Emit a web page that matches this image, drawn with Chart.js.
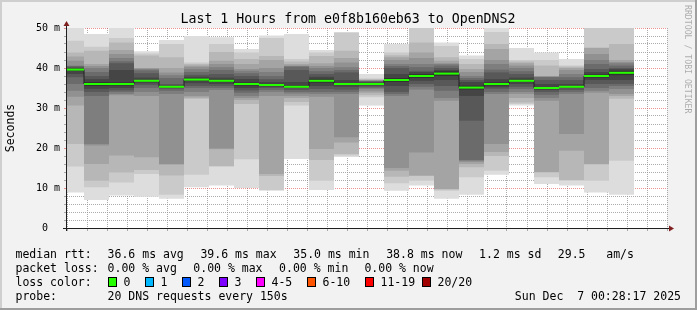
<!DOCTYPE html>
<html><head><meta charset="utf-8">
<script src="https://cdn.jsdelivr.net/npm/chart.js@4"></script>
<style>html,body{margin:0;padding:0;background:#f2f2f2;overflow:hidden}</style>
</head><body>
<canvas id="c" width="697" height="310"></canvas>
<script>
// ---------- data ----------
const graphStart = '23:28:18';
const probeStepMin = 2.5; // 20 DNS requests every 150s
const xTickStepMin = 2;
const sampleTimes = ['23:30:00','23:32:30','23:35:00','23:37:30','23:40:00','23:42:30','23:45:00','23:47:30',
  '23:50:00','23:52:30','23:55:00','23:57:30','00:00:00','00:02:30','00:05:00','00:07:30','00:10:00',
  '00:12:30','00:15:00','00:17:30','00:20:00','00:22:30','00:25:00'];
const medianRtt = [39.6, 36.0, 36.0, 36.8, 35.3, 37.1, 36.8, 36.0, 35.75, 35.3, 36.8, 36.0, 36.0, 37.0, 38.0, 38.6, 35.1, 36.0, 36.8, 35.0, 35.3, 38.0, 38.8];
// 20 sorted ping rtts (ms) per sample
const s00 = [8.9, 15.4, 21.0, 30.6, 32.8, 34.3, 36.0, 37.7, 38.5, 39.3, 39.8, 40.0, 40.3, 40.5, 40.6, 41.8, 42.9, 43.9, 46.8, 51.0];
const s01 = [7.0, 10.2, 11.8, 16.0, 20.6, 21.0, 33.0, 34.0, 34.8, 35.5, 36.5, 37.2, 38.0, 39.0, 40.0, 40.5, 41.0, 44.3, 45.3, 48.5];
const s02 = [8.1, 11.4, 13.9, 18.1, 33.2, 33.5, 34.0, 34.4, 35.0, 35.6, 36.4, 39.5, 41.2, 41.7, 42.5, 43.5, 44.5, 46.4, 47.5, 50.5];
const s03 = [7.8, 13.5, 14.5, 17.7, 33.0, 34.0, 35.0, 35.7, 36.2, 36.6, 37.0, 37.6, 38.7, 39.4, 39.7, 39.9, 40.0, 43.1, 43.6, 44.2];
const s04 = [7.3, 8.3, 13.1, 15.8, 16.0, 33.5, 34.3, 34.8, 35.0, 35.2, 35.4, 35.6, 36.0, 37.5, 38.2, 38.9, 40.0, 42.7, 46.0, 47.0];
const s05 = [10.2, 13.3, 32.3, 32.6, 33.0, 34.0, 35.0, 35.5, 36.2, 36.8, 37.3, 37.8, 38.3, 39.0, 39.7, 40.3, 40.6, 41.0, 41.4, 48.0];
const s06 = [10.6, 15.3, 15.5, 19.7, 19.9, 34.5, 35.0, 35.5, 36.0, 36.5, 37.1, 37.6, 38.5, 39.5, 40.2, 41.0, 41.8, 44.0, 46.0, 47.7];
const s07 = [10.0, 17.2, 31.0, 32.0, 32.5, 33.0, 33.8, 34.4, 35.0, 35.6, 36.4, 37.25, 38.0, 38.7, 39.3, 39.75, 41.0, 42.25, 43.9, 44.75];
const s08 = [9.3, 9.5, 13.0, 13.5, 33.0, 34.0, 34.5, 35.0, 35.3, 35.5, 36.0, 36.5, 37.2, 38.0, 39.0, 40.0, 42.0, 43.0, 47.5, 48.1];
const s09 = [17.25, 30.6, 31.5, 32.5, 33.0, 33.6, 34.0, 34.5, 35.0, 35.1, 35.6, 36.5, 39.5, 40.3, 40.5, 40.6, 41.0, 41.6, 42.25, 48.5];
const s10 = [9.5, 11.8, 17.0, 19.75, 32.8, 33.5, 34.0, 34.75, 35.5, 36.3, 37.3, 37.8, 38.5, 39.2, 40.0, 40.5, 41.2, 43.0, 43.9, 44.5];
const s11 = [17.75, 18.1, 18.5, 21.4, 22.7, 33.5, 34.0, 34.6, 35.3, 35.8, 36.2, 37.0, 38.9, 39.5, 40.2, 41.4, 42.5, 44.3, 48.8, 49.0];
const s12 = [30.6, 32.7, 33.2, 33.8, 34.2, 34.75, 35.0, 35.3, 35.6, 35.8, 36.2, 36.4, 36.6, 36.7, 36.8, 36.9, 37.0, 37.2, 37.4, 38.5];
const s13 = [9.3, 11.2, 12.8, 14.3, 15.0, 33.0, 33.5, 34.0, 35.5, 36.5, 37.5, 38.5, 40.0, 40.5, 41.0, 42.0, 42.7, 43.2, 43.9, 46.0];
const s14 = [10.6, 11.8, 13.0, 13.1, 18.9, 34.6, 35.3, 36.0, 36.8, 37.5, 38.5, 39.0, 39.3, 40.2, 41.0, 42.5, 43.9, 46.4, 50.1, 50.2];
const s15 = [7.3, 9.3, 9.6, 9.75, 31.8, 32.5, 34.3, 35.5, 37.0, 38.0, 39.2, 39.5, 40.0, 40.6, 41.0, 41.2, 41.8, 42.7, 45.5, 46.4];
const s16 = [8.3, 12.7, 15.2, 16.0, 16.5, 16.8, 17.0, 26.8, 33.0, 34.6, 35.6, 36.5, 37.0, 37.5, 38.0, 39.0, 39.75, 41.0, 42.25, 43.1];
const s17 = [13.3, 14.3, 18.0, 19.0, 21.0, 33.5, 34.0, 34.8, 35.2, 35.6, 36.4, 37.2, 38.9, 39.6, 41.0, 42.0, 44.75, 46.0, 49.0, 50.2];
const s18 = [30.6, 31.0, 31.4, 32.5, 33.5, 34.0, 34.75, 35.3, 36.0, 36.5, 37.1, 37.6, 38.5, 39.2, 40.0, 40.6, 41.2, 41.6, 42.0, 45.0];
const s19 = [11.0, 12.7, 13.9, 14.0, 31.8, 32.5, 33.3, 34.0, 34.5, 34.8, 35.2, 36.0, 37.0, 37.7, 37.8, 37.9, 38.0, 40.6, 42.0, 43.9];
const s20 = [10.6, 11.8, 12.0, 19.3, 23.5, 33.5, 34.0, 34.5, 35.0, 35.2, 35.4, 36.0, 37.0, 37.7, 38.5, 39.5, 40.0, 40.3, 40.6, 42.25];
const s21 = [8.9, 11.8, 15.9, 16.0, 33.8, 34.3, 35.0, 36.0, 37.0, 37.6, 38.4, 39.0, 39.75, 41.0, 42.0, 43.5, 45.0, 45.1, 50.1, 50.2];
const s22 = [8.3, 16.8, 32.3, 33.0, 33.5, 34.75, 35.5, 36.0, 37.0, 38.2, 39.3, 39.7, 40.0, 40.6, 41.2, 41.5, 42.0, 46.0, 50.1, 50.2];
const smoke = [s00,s01,s02,s03,s04,s05,s06,s07,s08,s09,s10,s11,s12,s13,s14,s15,s16,s17,s18,s19,s20,s21,s22];

const xTickLabels = ['23:30','23:40','23:50','00:00','00:10','00:20'];
const yTickLabels = ['0  ','10 m','20 m','30 m','40 m','50 m'];
const titleText = 'Last 1 Hours from e0f8b160eb63 to OpenDNS2';
const rttStats = ['36.6 ms avg','39.6 ms max','35.0 ms min','38.8 ms now','1.2 ms sd','29.5   am/s'];
const lossStats = ['0.00 % avg','0.00 % max','0.00 % min','0.00 % now'];
const lossLabels = ['0','1','2','3','4-5','6-10','11-19','20/20'];
const lossColors = ['#26ff00','#00b8ff','#0059ff','#7e00ff','#ff00ff','#ff5500','#ff0000','#a10000'];
const probeText = '20 DNS requests every 150s';
const dateText = 'Sun Dec  7 00:28:17 2025';

// ---------- helpers ----------
function toMin(t){ const [h,m,s]=t.split(':').map(Number); let v=h*60+m+s/60-23*60; if(v<0) v+=24*60; return v; }
const centers = sampleTimes.map(t => toMin(t) - probeStepMin/2);
const xMin = toMin(graphStart), xMax = xMin + 60;
const mono = '"DejaVu Sans Mono", "Liberation Mono", monospace';
const GRID = 'rgba(143,143,143,0.75)', MGRID = 'rgba(222,79,79,0.6)';
const isMajor = v => Math.abs(v/10 - Math.round(v/10)) < 1e-6;

// bar ruler uses the tick spacing (2 min); widen so each column spans one probe step (2.5 min)
const barCommon = { type:'bar', grouped:false, barPercentage:1, categoryPercentage: probeStepMin / xTickStepMin, borderWidth:0, clip:0 };
const datasets = [];
datasets.push(Object.assign({}, barCommon, { label:'median',
  data: medianRtt.map((m,i)=>({x:centers[i], y:[m-0.25, m+0.25]})), backgroundColor:'#26ff00' }));
datasets.push({ type:'line', label:'median step', data: medianRtt.map((m,i)=>({x:centers[i], y:m})),
  stepped:'middle', borderColor:'#202020', borderWidth:1, pointRadius:0, clip:0 });
for (let k = 10; k >= 1; k--) {
  const g = Math.floor(190/10*(10-k)) + 50;
  datasets.push(Object.assign({}, barCommon, { label:'smoke'+k,
    data: smoke.map((p,i)=>({x:centers[i], y:[p[k-1], p[20-k]]})), backgroundColor:`rgb(${g},${g},${g})` }));
}

const deco = {
  id:'deco',
  beforeDraw(chart){
    const {ctx, chartArea:a} = chart;
    ctx.save();
    ctx.fillStyle='#f2f2f2'; ctx.fillRect(0,0,697,310);
    ctx.fillStyle='#ffffff'; ctx.fillRect(a.left,a.top,a.right-a.left,a.bottom-a.top);
    ctx.fillStyle='#cfcfcf'; ctx.fillRect(0,0,697,2); ctx.fillRect(0,0,2,310);
    ctx.fillStyle='#9e9e9e'; ctx.fillRect(0,308,697,2); ctx.fillRect(695,0,2,310);
    ctx.restore();
  },
  afterDraw(chart){
    const {ctx, chartArea:a} = chart;
    ctx.save();
    // axes
    ctx.strokeStyle='#1f1f1f'; ctx.lineWidth=1;
    ctx.beginPath(); ctx.moveTo(63, a.bottom+0.5); ctx.lineTo(a.right+2, a.bottom+0.5); ctx.stroke();
    ctx.beginPath(); ctx.moveTo(a.left-0.5, a.bottom+3); ctx.lineTo(a.left-0.5, a.top-2); ctx.stroke();
    ctx.fillStyle='#801f1f';
    ctx.beginPath(); ctx.moveTo(a.right+2, a.bottom-2.5); ctx.lineTo(a.right+7, a.bottom+0.5); ctx.lineTo(a.right+2, a.bottom+3.5); ctx.closePath(); ctx.fill();
    ctx.beginPath(); ctx.moveTo(a.left-3.5, a.top-2); ctx.lineTo(a.left-0.5, a.top-7); ctx.lineTo(a.left+2.5, a.top-2); ctx.closePath(); ctx.fill();
    // title
    ctx.fillStyle='#000'; ctx.textBaseline='alphabetic';
    ctx.font = '13.25px '+mono; ctx.textAlign='center';
    ctx.fillText(titleText, 348, 23);
    // legend
    ctx.font = '11.5px '+mono; ctx.textAlign='left';
    const L = 15.5;
    ctx.fillText('median rtt:', L, 258);
    const rx = [107.6, 200.4, 293.3, 386.2, 479.1, 557.8];
    rttStats.forEach((t,i)=>ctx.fillText(t, rx[i], 258));
    ctx.fillText('packet loss:', L, 272);
    const px = [107.6, 193.3, 279.1, 364.4];
    lossStats.forEach((t,i)=>ctx.fillText(t, px[i], 272));
    ctx.fillText('loss color:', L, 286);
    const bx = [108.5, 145.5, 182.5, 219.5, 256.5, 307.5, 365.5, 422.5];
    lossLabels.forEach((t,i)=>{
      ctx.fillStyle=lossColors[i]; ctx.fillRect(bx[i], 277.5, 8, 9);
      ctx.strokeStyle='#000'; ctx.strokeRect(bx[i], 277.5, 8, 9);
      ctx.fillStyle='#000'; ctx.fillText(t, bx[i]+15, 286);
    });
    ctx.fillText('probe:', L, 300);
    ctx.fillText(probeText, 107.6, 300);
    ctx.textAlign='right'; ctx.fillText(dateText, 681, 300);
    // watermark
    ctx.translate(687, 5); ctx.rotate(Math.PI/2);
    ctx.font = '8.2px '+mono; ctx.textAlign='left'; ctx.textBaseline='middle';
    ctx.fillStyle='rgba(0,0,0,0.3)';
    ctx.fillText('RRDTOOL / TOBI OETIKER', 0, 0);
    ctx.restore();
  }
};

new Chart(document.getElementById('c'), {
  type:'bar',
  data:{ datasets },
  options:{
    responsive:false, animation:false, devicePixelRatio:1, events:[],
    layout:{ padding:{ top:28, right:30, bottom:0, left:0 } },
    plugins:{ legend:{display:false}, tooltip:{enabled:false}, title:{display:false} },
    scales:{
      x:{
        type:'linear', min:xMin, max:xMax, offset:false, z:1,
        afterFit:s=>{ s.height = 82; },
        grid:{ offset:false, lineWidth:1, drawTicks:true, tickLength:3,
          color:c=>isMajor(c.tick.value)?MGRID:GRID, tickColor:c=>isMajor(c.tick.value)?MGRID:GRID },
        border:{ display:false, dash:[1,1] },
        ticks:{ stepSize:xTickStepMin, includeBounds:false, autoSkip:false, maxRotation:0, minRotation:0, padding:0,
          color:'#000', font:{family:mono, size:10},
          callback:v=>isMajor(v)?(xTickLabels[Math.round((v-30)/10)]||''):'' }
      },
      y:{
        type:'linear', min:0, max:50, z:1,
        afterFit:s=>{ s.width = 67; },
        grid:{ lineWidth:1, drawTicks:true, tickLength:3,
          color:c=>isMajor(c.tick.value)?MGRID:GRID, tickColor:c=>isMajor(c.tick.value)?MGRID:GRID },
        border:{ display:false, dash:[1,1] },
        ticks:{ stepSize:2, autoSkip:false, padding:4, color:'#000', font:{family:mono, size:10},
          callback:v=>isMajor(v)?(yTickLabels[Math.round(v/10)]||''):'' },
        title:{ display:true, text:'Seconds', color:'#000', font:{family:mono, size:11.5}, padding:{top:4,bottom:0} }
      }
    }
  },
  plugins:[deco]
});
</script>
</body></html>
